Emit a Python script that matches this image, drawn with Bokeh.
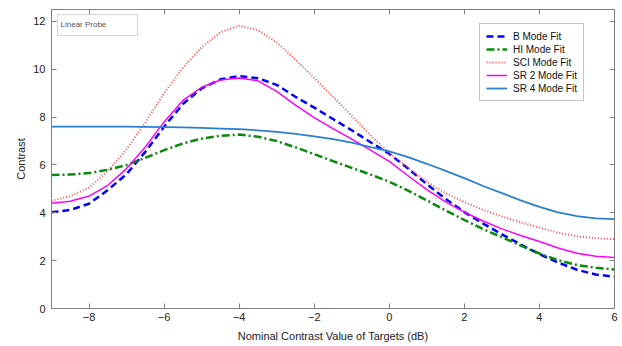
from bokeh.plotting import figure
from bokeh.models import (Range1d, LinearAxis, FixedTicker, Legend, LegendItem, BoxAnnotation, Label,
                          CustomLabelingPolicy)
from bokeh.embed import file_html
from bokeh.resources import INLINE

# ---- data ----
x = [-9, -8.5, -8, -7.5, -7, -6.5, -6, -5.5, -5, -4.5, -4, -3.5, -3, -2.5, -2, -1.5,
     -1, -0.5, 0, 0.5, 1, 1.5, 2, 2.5, 3, 3.5, 4, 4.5, 5, 5.5, 6]
b_mode = [4.02, 4.12, 4.38, 4.95, 5.62, 6.55, 7.6, 8.55, 9.2, 9.58, 9.72, 9.63, 9.35, 8.85, 8.4, 7.92,
          7.45, 6.95, 6.47, 5.85, 5.2, 4.58, 4.03, 3.55, 3.1, 2.68, 2.27, 1.92, 1.62, 1.42, 1.33]
hi_mode = [5.58, 5.6, 5.66, 5.8, 6.0, 6.3, 6.62, 6.9, 7.1, 7.22, 7.27, 7.18, 7.0, 6.74, 6.45, 6.16,
           5.88, 5.6, 5.3, 4.93, 4.52, 4.1, 3.7, 3.32, 2.98, 2.63, 2.3, 2.02, 1.82, 1.7, 1.63]
sci_mode = [4.5, 4.7, 5.05, 5.75, 6.65, 7.78, 9.0, 10.06, 10.92, 11.55, 11.82, 11.64, 11.12, 10.4, 9.64, 8.85,
            8.05, 7.24, 6.5, 5.88, 5.3, 4.82, 4.45, 4.12, 3.85, 3.6, 3.38, 3.17, 3.02, 2.94, 2.9]
sr2_mode = [4.4, 4.48, 4.7, 5.15, 5.85, 6.75, 7.8, 8.7, 9.25, 9.55, 9.64, 9.52, 9.08, 8.5, 7.98, 7.52,
            7.08, 6.62, 6.15, 5.55, 4.97, 4.46, 4.03, 3.66, 3.33, 3.05, 2.8, 2.53, 2.31, 2.18, 2.13]
sr4_mode = [7.6, 7.6, 7.6, 7.6, 7.6, 7.59, 7.58, 7.57, 7.55, 7.52, 7.5, 7.45, 7.38, 7.3, 7.2, 7.08,
            6.93, 6.75, 6.57, 6.33, 6.05, 5.75, 5.45, 5.12, 4.82, 4.52, 4.25, 4.02, 3.86, 3.77, 3.74]

series_names = ["B Mode Fit", "HI Mode Fit", "SCI Mode Fit", "SR 2 Mode Fit", "SR 4 Mode Fit"]
x_ticks = [-8, -6, -4, -2, 0, 2, 4, 6]
x_tick_labels = ["\u22128", "\u22126", "\u22124", "\u22122", "0", "2", "4", "6"]
y_ticks = [0, 2, 4, 6, 8, 10, 12]
y_tick_labels = ["0", "2", "4", "6", "8", "10", "12"]
x_label = "Nominal Contrast Value of Targets (dB)"
y_label = "Contrast"
note_text = "Linear Probe"

FONT = "Liberation Sans"
AX = "#808080"

p = figure(width=622, height=346, output_backend="svg", toolbar_location=None,
           x_range=Range1d(-9, 6), y_range=Range1d(0, 12.5),
           min_border_left=51, min_border_right=8, min_border_top=9, min_border_bottom=38,
           background_fill_color="white", border_fill_color="white")
p.grid.visible = False
p.outline_line_color = AX

no_labels = CustomLabelingPolicy(code="""
const n = indices.size;
for (let i = 0; i < n; i++) { indices.set(i, false); }
return indices;
""")

def style_axis(ax, show_labels):
    ax.axis_line_color = AX
    ax.major_tick_line_color = AX
    ax.major_tick_in = 5
    ax.major_tick_out = 0
    ax.minor_tick_line_color = None
    ax.major_label_text_font = FONT
    ax.major_label_text_color = "#222222"
    ax.axis_label_text_font = FONT
    ax.axis_label_text_font_style = "normal"
    ax.axis_label_text_color = "#222222"
    if show_labels:
        ax.major_label_text_font_size = "11px"
        ax.axis_label_text_font_size = "11px"
    else:
        ax.major_label_policy = no_labels
        ax.major_label_text_font_size = "1px"
        ax.major_label_standoff = 0

xa = p.xaxis[0]
ya = p.yaxis[0]
style_axis(xa, True)
style_axis(ya, True)
xa.ticker = FixedTicker(ticks=x_ticks)
ya.ticker = FixedTicker(ticks=y_ticks)
xa.major_label_overrides = dict(zip(x_ticks, x_tick_labels))
ya.major_label_overrides = dict(zip(y_ticks, y_tick_labels))
xa.axis_label = x_label
ya.axis_label = y_label
xa.major_label_standoff = 4
ya.major_label_standoff = 6
xa.axis_label_standoff = 6
ya.axis_label_standoff = 3

top = LinearAxis(ticker=FixedTicker(ticks=x_ticks))
right = LinearAxis(ticker=FixedTicker(ticks=y_ticks))
style_axis(top, False)
style_axis(right, False)
p.add_layout(top, "above")
p.add_layout(right, "right")

styles = [
    dict(color="#0000ff", line_width=2.5, line_dash="7 4"),
    dict(color="#0a8a0a", line_width=2.5, line_dash="8 3 2 3"),
    dict(color="#ff4a4a", line_width=2, line_dash="1 2"),
    dict(color="#ff00ff", line_width=1.5, line_dash="solid"),
    dict(color="#2a7fd0", line_width=1.8, line_dash="solid"),
]
ys = [b_mode, hi_mode, sci_mode, sr2_mode, sr4_mode]
items = []
for name, yy, st in zip(series_names, ys, styles):
    r = p.line(x, yy, line_color=st["color"], line_width=st["line_width"], line_dash=st["line_dash"],
               line_join="round")
    items.append(LegendItem(label=name, renderers=[r]))

legend = Legend(items=items, location=(428, 207))
legend.label_text_font = FONT
legend.label_text_font_size = "10px"
legend.label_text_color = "#111111"
legend.label_height = 12
legend.glyph_height = 12
legend.glyph_width = 21
legend.spacing = 1
legend.padding = 6
legend.label_standoff = 6
legend.border_line_color = "#8c8c8c"
legend.border_line_width = 1.5
legend.background_fill_color = "white"
legend.background_fill_alpha = 1
p.add_layout(legend, "center")

box = BoxAnnotation(left=6, right=86, top=294, bottom=273,
                    left_units="screen", right_units="screen", top_units="screen", bottom_units="screen",
                    fill_color="white", fill_alpha=1, line_color="#707070", line_width=1)
p.add_layout(box)
note = Label(x=9, y=284, x_units="screen", y_units="screen", text=note_text,
             text_font=FONT, text_font_size="8px", text_color="#555555", text_baseline="middle")
p.add_layout(note)

open("out.html", "w").write(file_html(p, INLINE))
